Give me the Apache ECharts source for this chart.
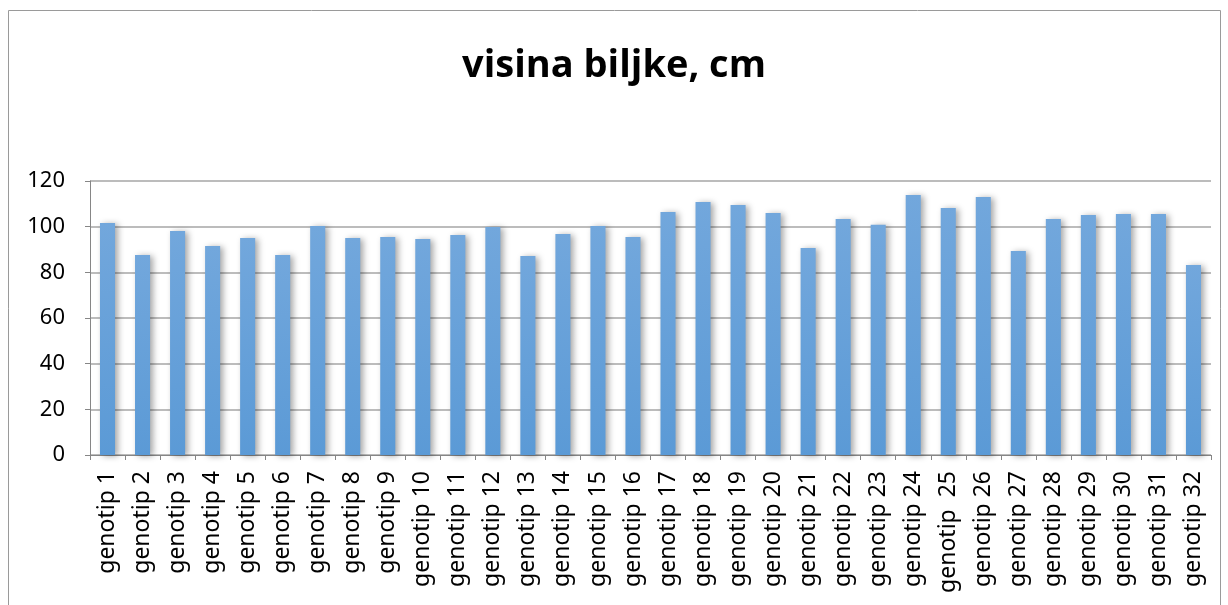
<!DOCTYPE html>
<html>
<head>
<meta charset="utf-8">
<script src="https://cdn.jsdelivr.net/npm/echarts@6/dist/echarts.min.js"></script>
<style>
  html, body { margin: 0; padding: 0; background: #fff; }
  #chart { width: 1228px; height: 605px; }
</style>
</head>
<body>
<div id="chart"></div>
<script>
const titleText = 'visina biljke, cm';

const genotypes = [
  'genotip 1', 'genotip 2', 'genotip 3', 'genotip 4', 'genotip 5', 'genotip 6',
  'genotip 7', 'genotip 8', 'genotip 9', 'genotip 10', 'genotip 11', 'genotip 12',
  'genotip 13', 'genotip 14', 'genotip 15', 'genotip 16', 'genotip 17', 'genotip 18',
  'genotip 19', 'genotip 20', 'genotip 21', 'genotip 22', 'genotip 23', 'genotip 24',
  'genotip  25', 'genotip 26', 'genotip 27', 'genotip 28', 'genotip 29', 'genotip 30',
  'genotip 31', 'genotip 32'
];

const heights = [
  101.6, 87.6, 98.1, 91.5, 95.0, 87.6, 100.3, 95.0, 95.5, 94.6, 96.4, 99.9,
  87.2, 96.8, 100.3, 95.5, 106.4, 110.8, 109.5, 106.0, 90.7, 103.4, 100.8, 113.9,
  108.2, 113.0, 89.3, 103.4, 105.1, 105.5, 105.5, 83.2
];

const yMin = 0;
const yMax = 120;
const yStep = 20;

const chart = echarts.init(document.getElementById('chart'));

const option = {
  animation: false,
  backgroundColor: '#ffffff',
  title: {
    text: titleText,
    left: 'center',
    top: 42,
    textStyle: {
      fontFamily: 'Open Sans',
      fontWeight: 'bold',
      fontSize: 38,
      color: '#000'
    }
  },
  graphic: [
    {
      type: 'rect',
      silent: true,
      shape: { x: 8.5, y: 10.5, width: 1212, height: 600 },
      style: { fill: 'none', stroke: '#9a9a9a', lineWidth: 1 }
    }
  ],
  grid: {
    left: 90,
    right: 17,
    top: 181,
    bottom: 150
  },
  xAxis: {
    type: 'category',
    data: genotypes,
    axisLine: { lineStyle: { color: '#868686', width: 1 } },
    axisTick: { show: true, length: 5, lineStyle: { color: '#868686' } },
    axisLabel: {
      rotate: 90,
      interval: 0,
      margin: 16,
      fontFamily: 'Noto Sans',
      fontSize: 23,
      color: '#000'
    }
  },
  yAxis: {
    type: 'value',
    min: yMin,
    max: yMax,
    interval: yStep,
    axisLine: { show: true, lineStyle: { color: '#868686', width: 1 } },
    axisTick: { show: true, length: 5, lineStyle: { color: '#868686' } },
    axisLabel: {
      margin: 25,
      fontFamily: 'Noto Sans',
      fontSize: 22,
      color: '#000'
    },
    splitLine: { lineStyle: { color: '#a6a6a6', width: 1.5 } }
  },
  series: [
    {
      type: 'bar',
      data: heights,
      barCategoryGap: '57%',
      itemStyle: {
        color: new echarts.graphic.LinearGradient(0, 0, 0, 1, [
          { offset: 0, color: '#72a7dc' },
          { offset: 1, color: '#5b9ad6' }
        ]),
        shadowBlur: 6,
        shadowOffsetX: 3,
        shadowOffsetY: 1,
        shadowColor: 'rgba(0, 0, 0, 0.35)'
      }
    }
  ]
};

chart.setOption(option);
</script>
</body>
</html>
